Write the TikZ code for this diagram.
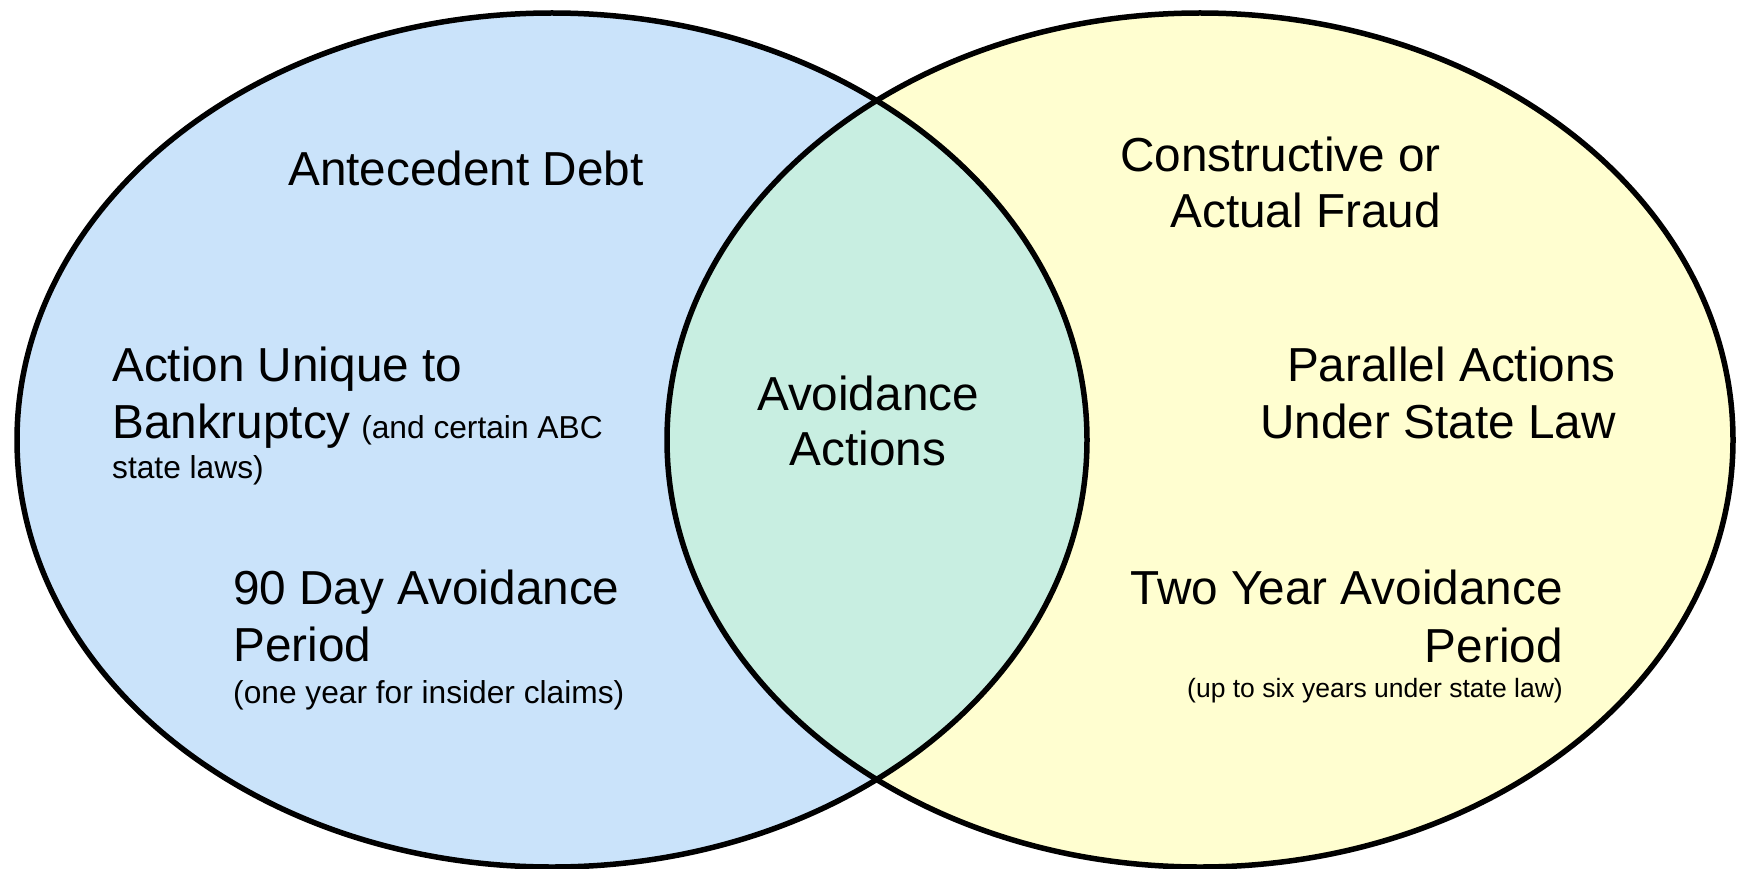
\documentclass[tikz,border=0pt]{standalone}
\usepackage{fontspec}
\setmainfont{Liberation Sans}
\definecolor{setblue}{HTML}{CAE3FA}
\definecolor{setyellow}{HTML}{FFFED0}
\definecolor{setmint}{HTML}{C8EEE1}
\newcommand{\bigsz}{\fontsize{47.7}{57}\selectfont}
\newcommand{\smallsz}{\fontsize{31.7}{38}\selectfont}
\newcommand{\tinysz}{\fontsize{26.5}{32}\selectfont}
\begin{document}
\begin{tikzpicture}[x=1pt,y=-1pt,
  outline/.style={draw=black,line width=5.5pt},
  big/.style={inner sep=0pt,font=\bigsz},
  small/.style={inner sep=0pt,font=\smallsz},
  tiny/.style={inner sep=0pt,font=\tinysz}]
  \useasboundingbox (0,0) rectangle (1737,869);
  % the two sets and their overlap
  \fill[setblue] (552,440) ellipse [x radius=535, y radius=427];
  \fill[setyellow] (1200,440) ellipse [x radius=533, y radius=427];
  \begin{scope}
    \clip (552,440) ellipse [x radius=535, y radius=427];
    \fill[setmint] (1200,440) ellipse [x radius=533, y radius=427];
  \end{scope}
  \draw[outline] (552,440) ellipse [x radius=535, y radius=427];
  \draw[outline] (1200,440) ellipse [x radius=533, y radius=427];

  % left set
  \node[big,anchor=base west] (antecedent) at (288,186) {Antecedent Debt};
  \node[big,anchor=base west] (unique1) at (112,381) {Action Unique to};
  \node[big,anchor=base west] (unique2) at (112,438) {Bankruptcy\hspace{0.22em}{\smallsz(and certain ABC}};
  \node[small,anchor=base west] (unique3) at (112,478) {state laws)};
  \node[big,anchor=base west] (ninety1) at (233,604) {90 Day Avoidance};
  \node[big,anchor=base west] (ninety2) at (233,661) {Period};
  \node[small,anchor=base west] (ninety3) at (233,703) {(one year for insider claims)};

  % overlap
  \node[big,anchor=base] (avoid1) at (868,410) {Avoidance};
  \node[big,anchor=base] (avoid2) at (868,465) {Actions};

  % right set
  \node[big,anchor=base east] (fraud1) at (1441,172) {Constructive or};
  \node[big,anchor=base east] (fraud2) at (1441,227) {Actual Fraud};
  \node[big,anchor=base east] (parallel1) at (1616,381) {Parallel Actions};
  \node[big,anchor=base east] (parallel2) at (1616,438) {Under State Law};
  \node[big,anchor=base east] (twoyear1) at (1563,604) {Two Year Avoidance};
  \node[big,anchor=base east] (twoyear2) at (1563,662) {Period};
  \node[tiny,anchor=base east] (twoyear3) at (1563,697) {(up to six years under state law)};
\end{tikzpicture}
\end{document}
